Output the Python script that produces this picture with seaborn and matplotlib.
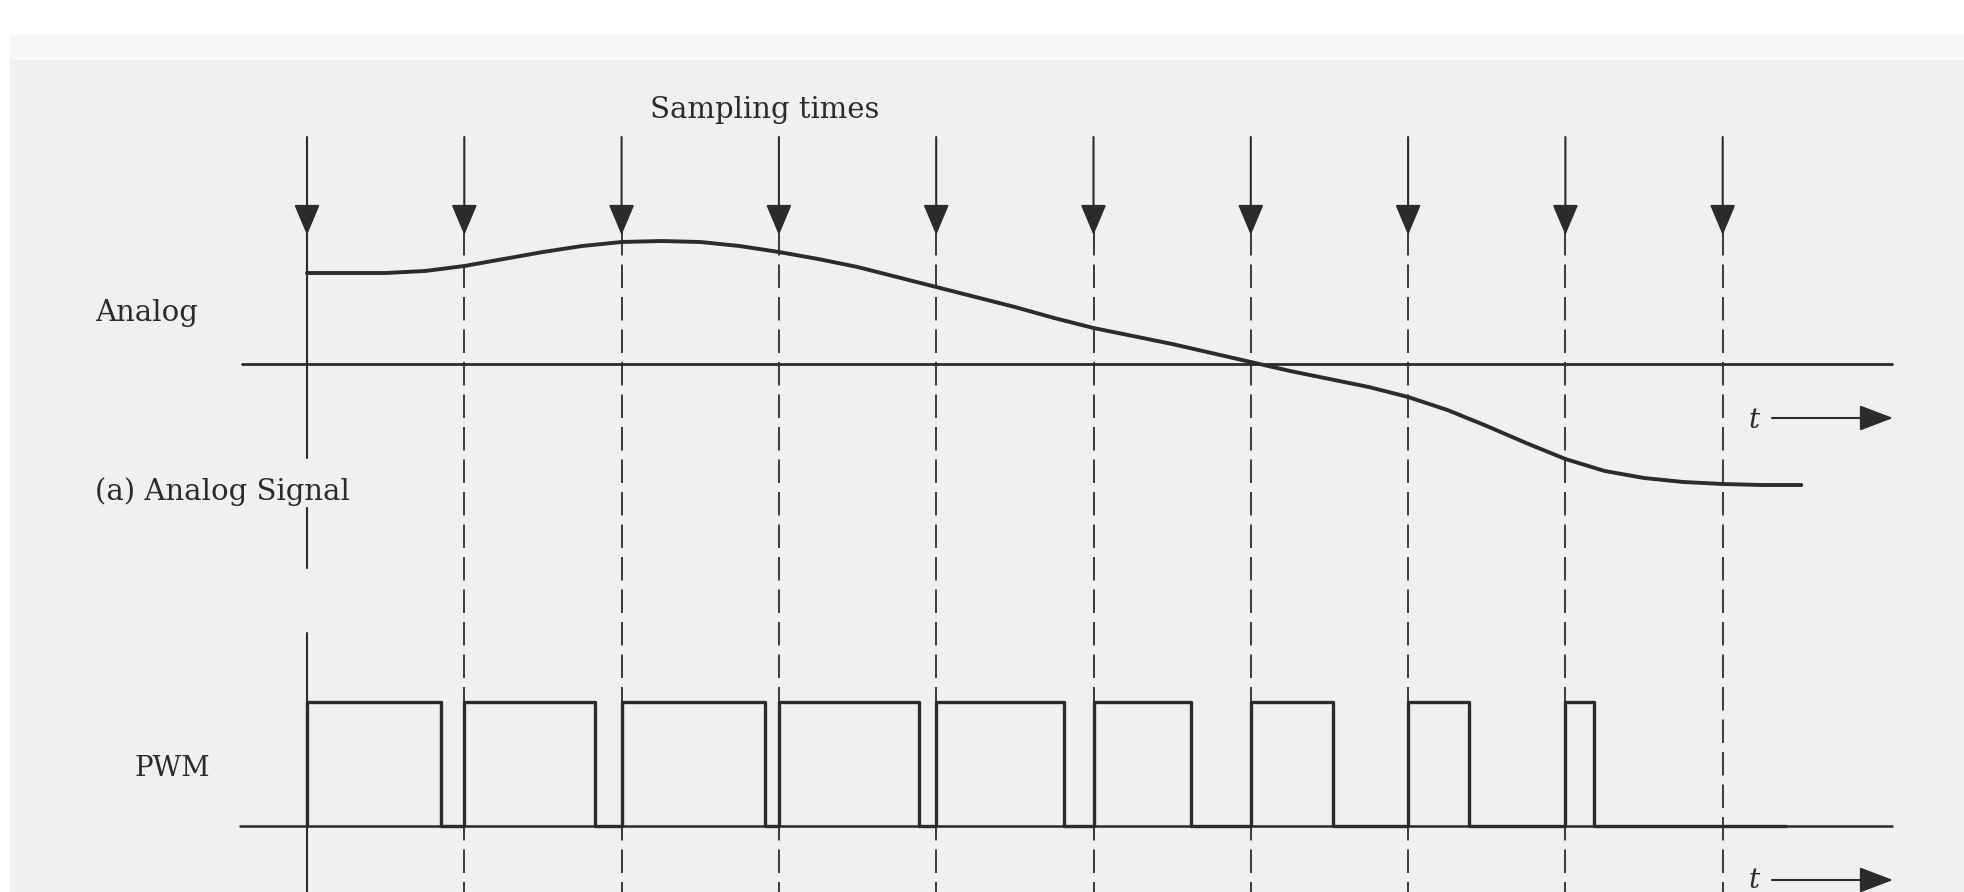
import matplotlib
matplotlib.use("Agg")
import matplotlib.pyplot as plt
import pandas as pd
import seaborn as sns

# sampling instants (in sampling periods)
sample_times = [0, 1, 2, 3, 4, 5, 6, 7, 8, 9]

# analog signal: time (periods) and amplitude above the zero line
analog_t = [0.0, 0.25, 0.5, 0.75, 1.0, 1.25, 1.5, 1.75, 2.0, 2.25, 2.5, 2.75, 3.0, 3.25,
            3.5, 3.75, 4.0, 4.25, 4.5, 4.75, 5.0, 5.25, 5.5, 5.75, 6.0, 6.25, 6.5, 6.75,
            7.0, 7.25, 7.5, 7.75, 8.0, 8.25, 8.5, 8.75, 9.0, 9.25, 9.5]
analog_v = [91, 91, 91, 93, 98, 105, 112, 118, 122, 123, 122, 118, 112, 105,
            97, 87, 77, 67, 57, 46, 36, 28, 20, 11, 2, -7, -15, -23,
            -33, -46, -62, -79, -95, -107, -114, -118, -120, -121, -121]

# PWM duty cycle of each sampling period
pwm_duty = [0.85, 0.83, 0.91, 0.89, 0.81, 0.62, 0.52, 0.39, 0.18, 0.0]

# layout (pixels of the 1965x892 canvas)
W, H = 1965, 892
T0_PX, PERIOD_PX = 307, 157.3
ZERO_A = 364            # analog zero line
PWM_LOW, PWM_HIGH = 826, 702
PWM_END = 9.4
INK = "#2b2b2b"
BG = "#f0f0f0"
SERIF = ["DejaVu Serif"]


def px(x):
    return (x - T0_PX) / PERIOD_PX


sns.set_theme(style="white")
plt.rcParams["font.family"] = SERIF

fig = plt.figure(figsize=(W / 100, H / 100), dpi=100)
fig.patch.set_facecolor("white")
ax = fig.add_axes([0, 0, 1, 1])
ax.set_xlim(px(0), px(W))
ax.set_ylim(H, 0)
ax.axis("off")

# scanned page tone
ax.axhspan(35, 60, xmin=10 / W, xmax=1, color="#f7f7f7", zorder=-2, lw=0)
ax.axhspan(60, H, xmin=10 / W, xmax=1, color=BG, zorder=-2, lw=0)

# zero lines
ax.plot([px(242), px(1892)], [ZERO_A, ZERO_A], color=INK, lw=2.0, zorder=2)
ax.plot([px(240), px(1892)], [PWM_LOW, PWM_LOW], color=INK, lw=1.8, zorder=2)

# analog signal
analog = pd.DataFrame({"t": analog_t, "y": [ZERO_A - v for v in analog_v]})
sns.lineplot(data=analog, x="t", y="y", ax=ax, color=INK, lw=2.8,
             estimator=None, sort=False, zorder=3)

# PWM waveform built from the duty cycles
pwm_x, pwm_y = [], []
for t, d in zip(sample_times, pwm_duty):
    if d > 0:
        pwm_x += [t, t, t + d, t + d]
        pwm_y += [PWM_LOW, PWM_HIGH, PWM_HIGH, PWM_LOW]
pwm_x.append(PWM_END)
pwm_y.append(PWM_LOW)
pwm = pd.DataFrame({"t": pwm_x, "y": pwm_y})
sns.lineplot(data=pwm, x="t", y="y", ax=ax, color=INK, lw=2.4,
             estimator=None, sort=False, zorder=3)

# sampling instants: arrow, then solid (first) or dashed lines
for k, t in enumerate(sample_times):
    ax.annotate("", xy=(t, 235), xytext=(t, 137),
                arrowprops=dict(arrowstyle="-|>,head_length=1.9,head_width=0.8",
                                mutation_scale=10, lw=1.5, color=INK,
                                shrinkA=0, shrinkB=0), zorder=4)
    if k == 0:
        for y0, y1 in [(230, 458), (508, 568), (633, H)]:
            ax.plot([t, t], [y0, y1], color=INK, lw=1.5, zorder=2)
    else:
        ax.plot([t, t], [232, H], color=INK, lw=1.3, dashes=(13, 5), zorder=2)

# time arrows
for y, yt in [(418, 420), (880, 880)]:
    ax.annotate("", xy=(px(1893), y), xytext=(px(1772), y),
                arrowprops=dict(arrowstyle="-|>,head_length=2.1,head_width=0.8",
                                mutation_scale=10, lw=1.5, color=INK,
                                shrinkA=0, shrinkB=0))
    ax.text(px(1760), yt, "t", fontsize=20, style="italic", color=INK,
            ha="right", va="center", family=SERIF)

# labels
ax.text(px(765), 110, "Sampling times", fontsize=21, color=INK,
        ha="center", va="center", family=SERIF)
ax.text(px(95), 313, "Analog", fontsize=21, color=INK, ha="left", va="center", family=SERIF)
ax.text(px(95), 492, "(a) Analog Signal", fontsize=21, color=INK,
        ha="left", va="center", family=SERIF)
ax.text(px(135), 768, "PWM", fontsize=20, color=INK, ha="left", va="center", family=SERIF)

fig.savefig("out.png", dpi=100, facecolor=fig.get_facecolor())
